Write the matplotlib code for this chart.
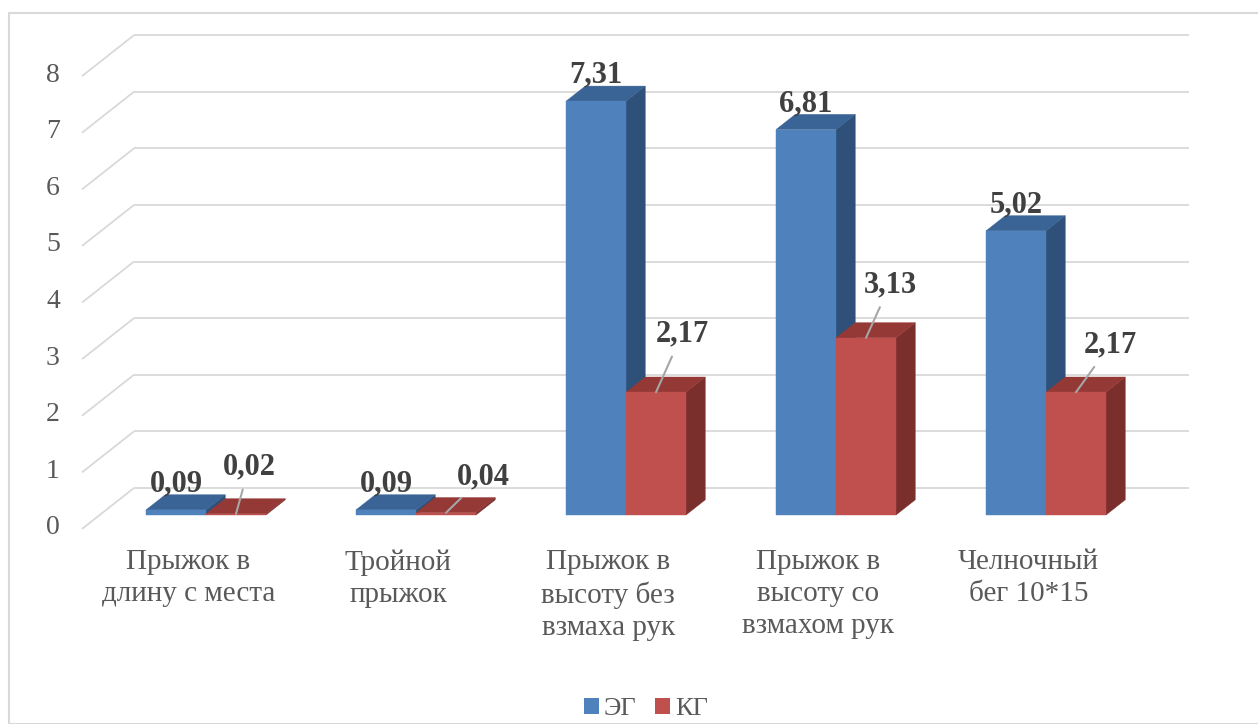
import matplotlib
matplotlib.use('Agg')
import matplotlib.pyplot as plt
from matplotlib.patches import Polygon, Rectangle, Patch

plt.rcParams['font.family'] = ['Liberation Serif', 'DejaVu Serif']

# данные
categories = ['Прыжок в\nдлину с места', 'Тройной\nпрыжок', 'Прыжок в\nвысоту без\nвзмаха рук',
              'Прыжок в\nвысоту со\nвзмахом рук', 'Челночный\nбег 10*15']
eg_values = [0.09, 0.09, 7.31, 6.81, 5.02]
kg_values = [0.02, 0.04, 2.17, 3.13, 2.17]
series_names = ['ЭГ', 'КГ']
y_ticks = [0, 1, 2, 3, 4, 5, 6, 7, 8]

# смещения подписей КГ (в пикселях)
kg_label_offsets = [(13, 47), (37, 36), (26, 58), (24, 53), (34, 47)]

# цвета граней: лицевая, верх, бок
blue = ('#4f81bd', '#3a6396', '#2e5079')
red = ('#c0504d', '#943936', '#7a2f2d')
grid_color = '#d9d9d9'

W, H = 1258, 724
fig = plt.figure(figsize=(W / 100, H / 100), dpi=100)
ax = fig.add_axes([0, 0, 1, 1])
ax.axis('off')

# масштаб: категория = 210 px, единица значения = 56.6 px
xs, ys = 210.0, 56.6
x0, y0 = 206.0, 515.0
ax.set_xlim(-x0 / xs, (W - x0) / xs)
ax.set_ylim((y0 - H) / ys, y0 / ys)

# вектор глубины (от передней плоскости до задней стенки)
Dx, Dy = 52 / xs, 41 / ys
f_front = -0.34   # передняя плоскость относительно фронта столбцов
f_wall = 0.66     # задняя стенка
f_bar = 0.37      # глубина столбца
w = 60 / xs       # ширина столбца

# сетка: задняя стенка + боковая стенка
x_left_front = (82 - x0) / xs
x_wall_left = x_left_front + Dx
x_wall_right = (1189 - x0) / xs
for v in y_ticks:
    yf = v + f_front * Dy
    yw = v + f_wall * Dy
    ax.plot([x_left_front, x_wall_left], [yf, yw], color=grid_color, lw=1.3, zorder=1,
            solid_capstyle='butt')
    ax.plot([x_wall_left, x_wall_right], [yw, yw], color=grid_color, lw=1.3, zorder=1,
            solid_capstyle='butt')
    ax.text((53 - x0) / xs, yf + 0.02, str(v), ha='center', va='center',
            fontsize=20, color='#595959')


def bar3d(xl, h, cols, z):
    dx, dy = f_bar * Dx, f_bar * Dy
    xr = xl + w
    front = Polygon([(xl, 0), (xr, 0), (xr, h), (xl, h)], closed=True,
                    facecolor=cols[0], edgecolor=cols[0], lw=0.3, zorder=z)
    top = Polygon([(xl, h), (xr, h), (xr + dx, h + dy), (xl + dx, h + dy)], closed=True,
                  facecolor=cols[1], edgecolor=cols[1], lw=0.3, zorder=z)
    side = Polygon([(xr, 0), (xr + dx, dy), (xr + dx, h + dy), (xr, h)], closed=True,
                   facecolor=cols[2], edgecolor=cols[2], lw=0.3, zorder=z)
    for p in (side, top, front):
        ax.add_patch(p)


for i in range(len(categories)):
    bar3d(i - w, eg_values[i], blue, 2 + i * 2)
    bar3d(i, kg_values[i], red, 3 + i * 2)

    # подписи значений
    ax.annotate(f'{eg_values[i]:.2f}'.replace('.', ','), xy=(i - w / 2, eg_values[i]),
                xytext=(0, 26), textcoords='offset pixels', ha='center', va='center',
                fontsize=22, fontweight='bold', color='#404040', zorder=20)
    ox, oy = kg_label_offsets[i]
    ax.annotate(f'{kg_values[i]:.2f}'.replace('.', ','), xy=(i + w / 2, kg_values[i]),
                xytext=(ox, oy), textcoords='offset pixels', ha='center', va='center',
                fontsize=22, fontweight='bold', color='#404040', zorder=20,
                arrowprops=dict(arrowstyle='-', color='#a6a6a6', lw=1.5,
                                shrinkA=4, shrinkB=0))

    # подписи категорий
    ax.text(i + f_front * Dx, (y0 - 549) / ys, categories[i], ha='center', va='top',
            fontsize=21, color='#595959', linespacing=1.3)

# рамка области диаграммы
fig.patches.append(Rectangle((9 / W, 0), 1.1, 1 - 13 / H, transform=fig.transFigure,
                             fill=False, edgecolor=grid_color, lw=1.5))

handles = [Patch(facecolor=blue[0]), Patch(facecolor=red[0])]
fig.legend(handles, series_names, loc='center', bbox_to_anchor=(646 / W, 1 - 709 / H),
           ncol=2, frameon=False, fontsize=19, handlelength=0.55, handleheight=0.55,
           handletextpad=0.2, columnspacing=0.7, labelcolor='#595959')

fig.savefig('out.png', dpi=100)
